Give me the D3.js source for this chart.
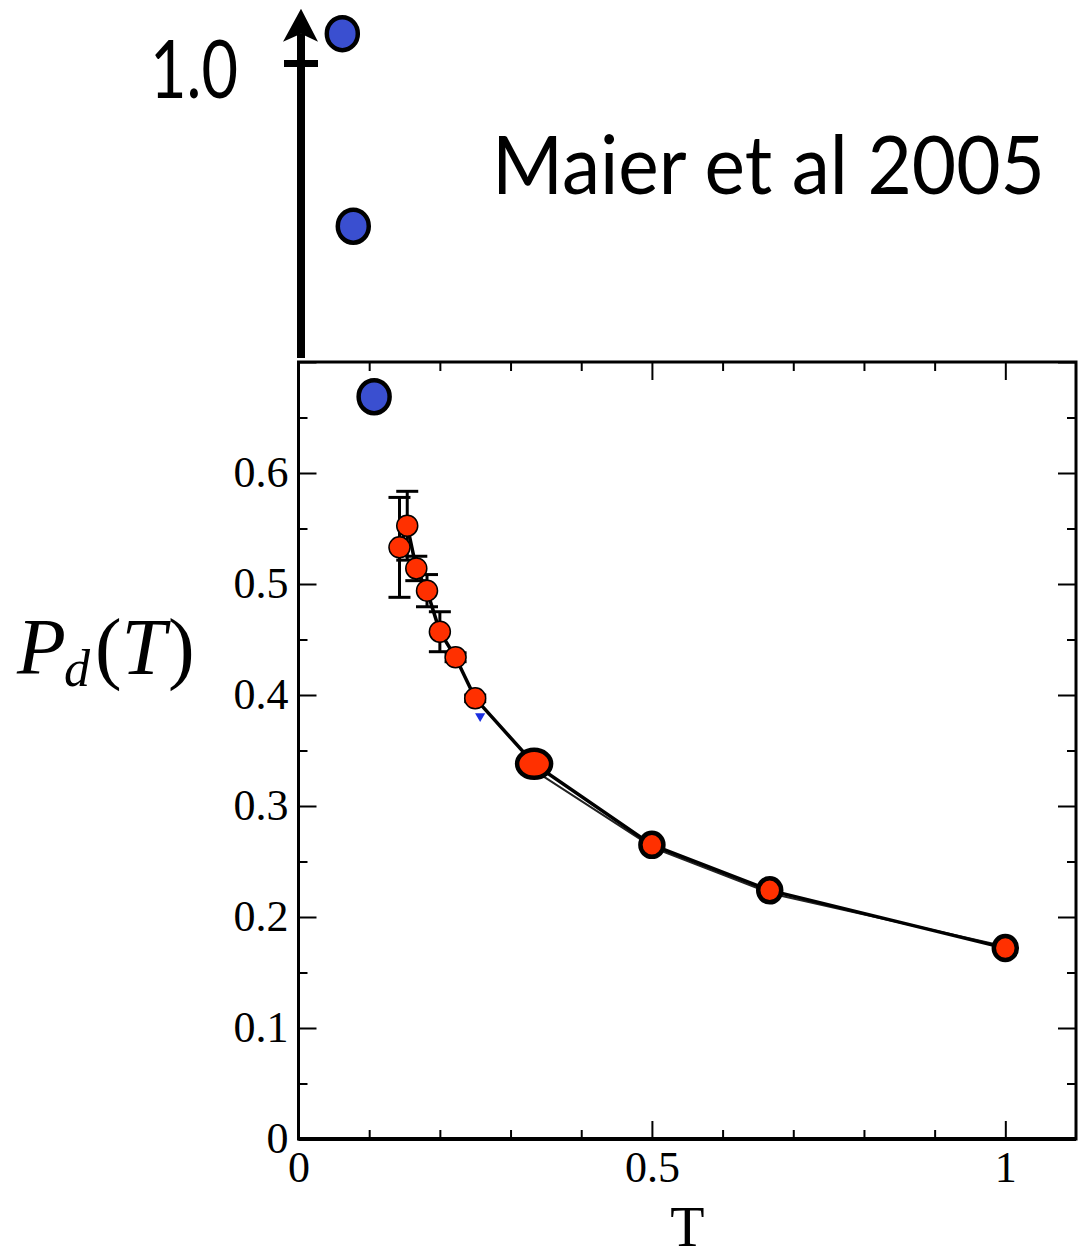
<!DOCTYPE html>
<html>
<head>
<meta charset="utf-8">
<script src="https://cdn.jsdelivr.net/npm/d3@7"></script>
<style>
    html, body { margin: 0; padding: 0; background: #fff; }
    svg { display: block; }
    .tick text { font-family: 'Liberation Serif', 'Times New Roman', serif; font-size: 44px; fill: #000; }
</style>
</head>
<body>
<div id="chart"></div>
<script>
// red series: d-wave pairfield susceptibility fraction vs T
const tRed = [1 / 7, 1 / 6.5, 1 / 6, 1 / 5.5, 1 / 5, 1 / 4.5, 1 / 4, 1 / 3, 1 / 2, 2 / 3, 1];
const pdRed = [0.533, 0.5525, 0.514, 0.494, 0.457, 0.434, 0.397, 0.338, 0.265, 0.224, 0.172];
const errRed = [0.045, 0.031, 0.011, 0.0145, 0.018, 0.004, 0.003, 0, 0, 0, 0];

// blue series mostly hidden under the red one
const tBlueLow = [0.257, 0.336, 0.503, 0.67, 0.997];
const pdBlueLow = [0.381, 0.331, 0.262, 0.221, 0.174];

// blue points of Maier et al 2005 (two of them above the frame)
const tBlue = [0.062, 0.0775, 0.107];
const pdBlue = [1.03, 0.8365, 0.6687];

const xMajorTicks = [0, 0.5, 1];
const xMinorTicks = [0.1, 0.2, 0.3, 0.4, 0.6, 0.7, 0.8, 0.9];
const yMajorTicks = [0, 0.1, 0.2, 0.3, 0.4, 0.5, 0.6, 0.7];
const yMinorTicks = [0.05, 0.15, 0.25, 0.35, 0.45, 0.55, 0.65];
const yLabelled = [0, 0.1, 0.2, 0.3, 0.4, 0.5, 0.6];

const width = 1078;
const height = 1254;
const frame = { left: 298.5, right: 1076, top: 362, bottom: 1139 };

const svg = d3.select('#chart')
    .append('svg')
    .attr('width', width)
    .attr('height', height);

const x = d3.scaleLinear().domain([0, 1.1]).range([frame.left, frame.right]);
const y = d3.scaleLinear().domain([0, 0.7]).range([frame.bottom, frame.top]);
// hand drawn extension of the axis above the frame
const yUp = d3.scaleLinear().domain([0.7, 1.0]).range([frame.top, 63.5]);
const yAny = (v) => (v <= 0.7 ? y(v) : yUp(v));

const majorLen = 18;
const minorLen = 9;

const fmtX = (d) => (d === 0 ? '0' : d3.format('')(d));
const fmtY = (d) => (yLabelled.includes(d) ? (d === 0 ? '0' : d.toFixed(1)) : '');

function styleAxis(g) {
    g.select('.domain').remove();
    g.selectAll('.tick line').attr('stroke', '#000').attr('stroke-width', 2);
}

// bottom
svg.append('g')
    .attr('transform', `translate(0,${frame.bottom})`)
    .call(d3.axisBottom(x).tickValues(xMajorTicks).tickSize(-majorLen).tickPadding(12).tickFormat(fmtX))
    .call(styleAxis);
svg.append('g')
    .attr('transform', `translate(0,${frame.bottom})`)
    .call(d3.axisBottom(x).tickValues(xMinorTicks).tickSize(-minorLen).tickFormat(''))
    .call(styleAxis);
// top
svg.append('g')
    .attr('transform', `translate(0,${frame.top})`)
    .call(d3.axisTop(x).tickValues(xMajorTicks).tickSize(-majorLen).tickFormat(''))
    .call(styleAxis);
svg.append('g')
    .attr('transform', `translate(0,${frame.top})`)
    .call(d3.axisTop(x).tickValues(xMinorTicks).tickSize(-minorLen).tickFormat(''))
    .call(styleAxis);
// left
svg.append('g')
    .attr('transform', `translate(${frame.left},0)`)
    .call(d3.axisLeft(y).tickValues(yMajorTicks).tickSize(-majorLen).tickPadding(10).tickFormat(fmtY))
    .call(styleAxis)
    .selectAll('text')
    .attr('dy', '0.3em');
svg.append('g')
    .attr('transform', `translate(${frame.left},0)`)
    .call(d3.axisLeft(y).tickValues(yMinorTicks).tickSize(-minorLen).tickFormat(''))
    .call(styleAxis);
// right
svg.append('g')
    .attr('transform', `translate(${frame.right},0)`)
    .call(d3.axisRight(y).tickValues(yMajorTicks).tickSize(-majorLen).tickFormat(''))
    .call(styleAxis);
svg.append('g')
    .attr('transform', `translate(${frame.right},0)`)
    .call(d3.axisRight(y).tickValues(yMinorTicks).tickSize(-minorLen).tickFormat(''))
    .call(styleAxis);

// frame
svg.append('rect')
    .attr('x', frame.left)
    .attr('y', frame.top)
    .attr('width', frame.right - frame.left)
    .attr('height', frame.bottom - frame.top)
    .attr('fill', 'none')
    .attr('stroke', '#000')
    .attr('stroke-width', 3);
svg.append('line')
    .attr('x1', frame.left).attr('x2', frame.right)
    .attr('y1', frame.bottom).attr('y2', frame.bottom)
    .attr('stroke', '#000').attr('stroke-width', 4);

// arrow extending the y axis upwards, with a tick at 1.0
const shaftX = frame.left + 2.5;
const tipY = yUp(1.055);
svg.append('line')
    .attr('x1', shaftX).attr('x2', shaftX)
    .attr('y1', frame.top - 4).attr('y2', tipY + 25)
    .attr('stroke', '#000').attr('stroke-width', 8);
svg.append('path')
    .attr('d', `M${shaftX},${tipY} L${shaftX + 17},${tipY + 33} L${shaftX},${tipY + 25} L${shaftX - 18},${tipY + 33} Z`)
    .attr('fill', '#000');
svg.append('line')
    .attr('x1', shaftX - 17).attr('x2', shaftX + 17)
    .attr('y1', yUp(1.0)).attr('y2', yUp(1.0))
    .attr('stroke', '#000').attr('stroke-width', 7);

svg.append('text')
    .attr('x', 150)
    .attr('y', yUp(1.0) + 34)
    .attr('textLength', 88)
    .attr('lengthAdjust', 'spacingAndGlyphs')
    .style('font-family', 'Lato, "Open Sans", sans-serif')
    .style('font-size', '82px')
    .text('1.0');

svg.append('text')
    .attr('x', 492)
    .attr('y', 194)
    .attr('textLength', 553)
    .attr('lengthAdjust', 'spacingAndGlyphs')
    .style('font-family', 'Lato, "Open Sans", sans-serif')
    .style('font-size', '82px')
    .text('Maier et al 2005');

// axis titles
svg.append('text')
    .attr('x', x(0.55))
    .attr('y', 1246)
    .attr('text-anchor', 'middle')
    .style('font-family', '"Liberation Serif", serif')
    .style('font-size', '56px')
    .text('T');

const yTitle = svg.append('text')
    .attr('x', 17)
    .attr('y', 674)
    .style('font-family', '"Liberation Serif", serif')
    .style('font-size', '80px');
yTitle.append('tspan').style('font-style', 'italic').text('P');
yTitle.append('tspan').style('font-style', 'italic').style('font-size', '52px').attr('dx', -2).attr('dy', 12).text('d');
yTitle.append('tspan').attr('dx', 5).attr('dy', -12).text('(');
yTitle.append('tspan').style('font-style', 'italic').text('T');
yTitle.append('tspan').attr('dx', 2).text(')');

// hidden blue series: line from the second point on, small triangles
const blueLow = tBlueLow.map((t, i) => ({ t, v: pdBlueLow[i] }));
const line = d3.line().x((d) => x(d.t)).y((d) => y(d.v));
svg.append('path')
    .datum(blueLow.slice(1))
    .attr('d', line)
    .attr('fill', 'none')
    .attr('stroke', '#222')
    .attr('stroke-width', 2);
svg.append('g')
    .selectAll('path')
    .data(blueLow)
    .join('path')
    .attr('transform', (d) => `translate(${x(d.t)},${y(d.v)}) rotate(180)`)
    .attr('d', d3.symbol(d3.symbolTriangle, 45))
    .attr('fill', '#1a2ee0');

// red series
const red = tRed.map((t, i) => ({ t, v: pdRed[i], e: errRed[i], i }));
svg.append('path')
    .datum(red)
    .attr('d', line)
    .attr('fill', 'none')
    .attr('stroke', '#000')
    .attr('stroke-width', 3.5);

const bars = svg.append('g').attr('stroke', '#000').attr('stroke-width', 3);
red.filter((d) => d.e > 0).forEach((d) => {
    const cx = x(d.t);
    bars.append('line').attr('x1', cx).attr('x2', cx).attr('y1', y(d.v - d.e)).attr('y2', y(d.v + d.e));
    [d.v - d.e, d.v + d.e].forEach((v) => {
        bars.append('line').attr('x1', cx - 11).attr('x2', cx + 11).attr('y1', y(v)).attr('y2', y(v));
    });
});

// marker shape depends on the point: small dots at low T, heavier ones above
const markerR = (d) => (d.i < 7 ? [10.5, 10.5] : d.i === 7 ? [17, 14] : [11.5, 12]);
const markerStroke = (d) => (d.i < 7 ? 1.5 : 4.5);

svg.append('g')
    .selectAll('ellipse')
    .data(red)
    .join('ellipse')
    .attr('cx', (d) => x(d.t))
    .attr('cy', (d) => y(d.v))
    .attr('rx', (d) => markerR(d)[0])
    .attr('ry', (d) => markerR(d)[1])
    .attr('fill', '#ff3000')
    .attr('stroke', '#000')
    .attr('stroke-width', markerStroke);

// blue points
svg.append('g')
    .selectAll('ellipse')
    .data(tBlue.map((t, i) => ({ t, v: pdBlue[i] })))
    .join('ellipse')
    .attr('cx', (d) => x(d.t))
    .attr('cy', (d) => yAny(d.v))
    .attr('rx', 15.5)
    .attr('ry', 16.5)
    .attr('fill', '#3a4fd0')
    .attr('stroke', '#000')
    .attr('stroke-width', 4.5);
</script>
</body>
</html>
